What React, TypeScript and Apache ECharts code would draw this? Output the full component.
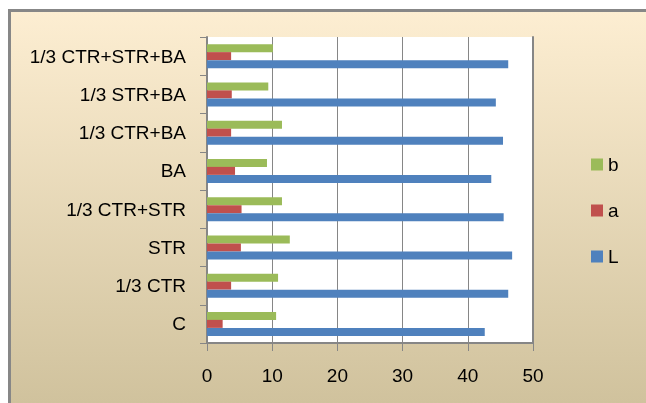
import React, { useEffect, useRef } from "react";
import * as echarts from "echarts";

const categories = [
  "C",
  "1/3 CTR",
  "STR",
  "1/3 CTR+STR",
  "BA",
  "1/3 CTR+BA",
  "1/3 STR+BA",
  "1/3 CTR+STR+BA",
];
const seriesB = [10.6, 10.9, 12.7, 11.5, 9.2, 11.5, 9.4, 10.1];
const seriesA = [2.4, 3.7, 5.2, 5.3, 4.3, 3.7, 3.8, 3.7];
const seriesL = [42.6, 46.2, 46.8, 45.5, 43.6, 45.4, 44.3, 46.2];
const xTicks = { min: 0, max: 50, interval: 10 };

const FONT = "'Liberation Sans', Arial, sans-serif";
const GRAY = "#868686";

export default function App() {
  const ref = useRef<HTMLDivElement>(null);
  useEffect(() => {
    document.body.style.margin = "0";
    document.body.style.overflow = "hidden";
    if (!ref.current) return;
    const chart = echarts.init(ref.current, undefined, { renderer: "svg" });
    chart.setOption({
      animation: false,
      textStyle: { fontFamily: FONT },
      graphic: [
        {
          type: "rect",
          z: -10,
          silent: true,
          shape: { x: 9, y: 10, width: 637, height: 393 },
          style: {
            fill: new echarts.graphic.LinearGradient(0, 0, 0, 1, [
              { offset: 0, color: "#fdeed2" },
              { offset: 1, color: "#d0c29d" },
            ]),
          },
        },
        {
          type: "line",
          z: -9,
          silent: true,
          shape: { x1: 8, y1: 10.5, x2: 646, y2: 10.5 },
          style: { stroke: "#878787", lineWidth: 3 },
        },
        {
          type: "line",
          z: -9,
          silent: true,
          shape: { x1: 9.5, y1: 9, x2: 9.5, y2: 403 },
          style: { stroke: "#878787", lineWidth: 3 },
        },
      ],
      grid: {
        left: 207,
        top: 37,
        right: 113,
        bottom: 60,
        show: true,
        backgroundColor: "#ffffff",
        borderWidth: 0,
      },
      legend: {
        orient: "vertical",
        left: 586,
        top: 150,
        itemWidth: 12,
        itemHeight: 12,
        itemGap: 27,
        icon: "rect",
        data: ["b", "a", "L"],
        textStyle: { fontSize: 19, color: "#000", fontFamily: FONT },
      },
      xAxis: {
        type: "value",
        min: xTicks.min,
        max: xTicks.max,
        interval: xTicks.interval,
        axisLine: { show: true, lineStyle: { color: GRAY, width: 2 } },
        axisTick: { show: true, length: 8, lineStyle: { color: GRAY, width: 1 } },
        splitLine: { show: true, lineStyle: { color: GRAY, width: 1 } },
        axisLabel: { fontSize: 19, color: "#000", margin: 23, fontFamily: FONT },
      },
      yAxis: [
        {
          type: "category",
          data: categories,
          axisLine: { show: true, lineStyle: { color: GRAY, width: 2 } },
          axisTick: { show: true, length: 7, lineStyle: { color: GRAY, width: 1 } },
          axisLabel: { fontSize: 19, color: "#000", margin: 21, fontFamily: FONT },
          splitLine: { show: false },
        },
        {
          type: "category",
          data: categories,
          position: "right",
          axisLine: { show: true, lineStyle: { color: GRAY, width: 2 } },
          axisTick: { show: false },
          axisLabel: { show: false },
          splitLine: { show: false },
        },
      ],
      series: [
        {
          name: "b",
          type: "bar",
          data: seriesB,
          barWidth: 8,
          barGap: "0%",
          itemStyle: { color: "#9bbb59" },
        },
        {
          name: "a",
          type: "bar",
          data: seriesA,
          barWidth: 8,
          barGap: "0%",
          itemStyle: { color: "#c0504d" },
        },
        {
          name: "L",
          type: "bar",
          data: seriesL,
          barWidth: 8,
          barGap: "0%",
          itemStyle: { color: "#4f81bd" },
        },
      ],
    });
    return () => chart.dispose();
  }, []);
  return (
    <div
      ref={ref}
      style={{ position: "fixed", left: 0, top: 0, width: 646, height: 403 }}
    />
  );
}
